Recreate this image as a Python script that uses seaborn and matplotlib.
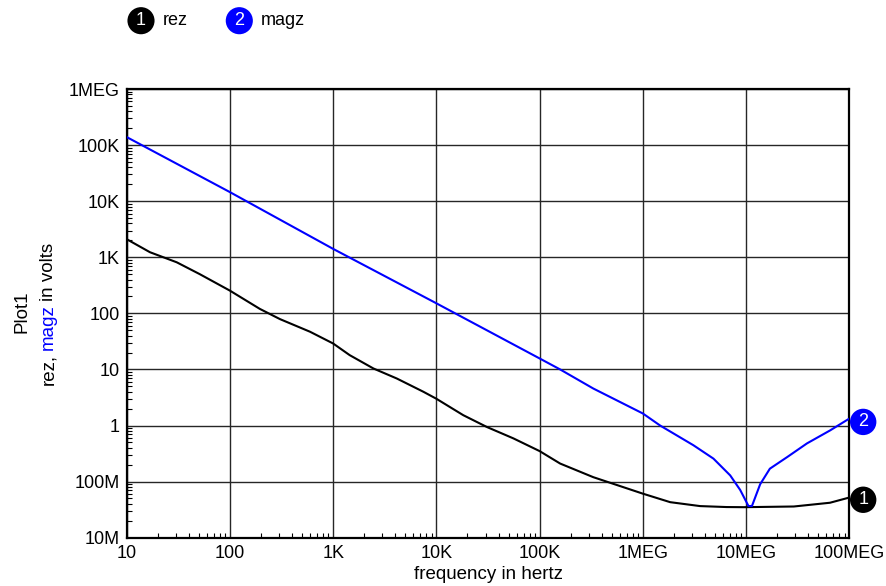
import pandas as pd
import matplotlib
matplotlib.use("Agg")
import matplotlib.pyplot as plt
from matplotlib.ticker import FixedLocator, FixedFormatter, LogLocator, NullFormatter
import seaborn as sns

# values
rez_freq = [10, 16.8, 30.5, 51, 100, 195, 305, 597, 1000, 1445, 2455, 4130, 7480, 10000,
            18200, 30900, 55700, 100000, 158000, 331000, 1e6, 1.84e6, 3.59e6, 6.46e6,
            9.5e6, 2.9e7, 6.5e7, 1e8]
rez_vals = [2100, 1230, 814, 500, 254, 120, 79, 47, 29, 18, 10.4, 6.9, 4.0, 3.0,
            1.53, 0.94, 0.59, 0.35, 0.21, 0.12, 0.061, 0.043, 0.0366, 0.0352,
            0.035, 0.036, 0.042, 0.052]

magz_freq = [10, 100, 1000, 10000, 100000, 158000, 331000, 1e6, 1.47e6, 3.09e6, 4.83e6,
             7.02e6, 8.77e6, 1.055e7, 1.14e7, 1.37e7, 1.7e7, 2.51e7, 3.89e7, 6.53e7, 1e8]
magz_vals = [139000, 14500, 1410, 151, 15.7, 10, 4.57, 1.64, 1.0, 0.445, 0.257,
             0.129, 0.071, 0.0367, 0.0367, 0.09, 0.17, 0.275, 0.48, 0.82, 1.33]

x_ticks = [1e1, 1e2, 1e3, 1e4, 1e5, 1e6, 1e7, 1e8]
x_labels = ['10', '100', '1K', '10K', '100K', '1MEG', '10MEG', '100MEG']
y_ticks = [1e-2, 1e-1, 1e0, 1e1, 1e2, 1e3, 1e4, 1e5, 1e6]
y_labels = ['10M', '100M', '1', '10', '100', '1K', '10K', '100K', '1MEG']

BLUE = '#0000ff'
W, H = 887, 586

sns.set_style('white')
plt.rcParams['font.family'] = ['Liberation Sans', 'DejaVu Sans']
plt.rcParams['text.color'] = 'black'
plt.rcParams['axes.labelcolor'] = 'black'

fig = plt.figure(figsize=(W / 100, H / 100), dpi=100)
ax = fig.add_axes([126.7 / W, 1 - 537.7 / H, (849.3 - 126.7) / W, (537.7 - 89) / H])

df_rez = pd.DataFrame({'freq': rez_freq, 'val': rez_vals})
df_magz = pd.DataFrame({'freq': magz_freq, 'val': magz_vals})
sns.lineplot(data=df_rez, x='freq', y='val', ax=ax, color='black', lw=1.5,
             estimator=None, sort=False, zorder=3)
sns.lineplot(data=df_magz, x='freq', y='val', ax=ax, color=BLUE, lw=1.5,
             estimator=None, sort=False, zorder=3)

ax.set_xscale('log')
ax.set_yscale('log')
ax.set_xlim(1e1, 1e8)
ax.set_ylim(1e-2, 1e6)

ax.xaxis.set_major_locator(FixedLocator(x_ticks))
ax.xaxis.set_major_formatter(FixedFormatter(x_labels))
ax.yaxis.set_major_locator(FixedLocator(y_ticks))
ax.yaxis.set_major_formatter(FixedFormatter(y_labels))
ax.xaxis.set_minor_locator(LogLocator(base=10, subs=range(2, 10), numticks=20))
ax.yaxis.set_minor_locator(LogLocator(base=10, subs=range(2, 10), numticks=20))
ax.xaxis.set_minor_formatter(NullFormatter())
ax.yaxis.set_minor_formatter(NullFormatter())

ax.tick_params(which='major', length=0, labelsize=13, pad=5, colors='black')
ax.tick_params(which='minor', direction='in', length=3.5, width=0.8, color='black',
               bottom=True, left=True, top=False, right=False)
ax.grid(True, which='major', color='#262626', lw=1.0)
for sp in ax.spines.values():
    sp.set_color('black')
    sp.set_linewidth(1.6)

ax.set_xlabel('frequency in hertz', fontsize=13.5, labelpad=3)
ax.set_ylabel('')

# end-of-curve markers
ax.annotate('2', xy=(magz_freq[-1], magz_vals[-1]), xytext=(10, -2.4),
            textcoords='offset points', ha='center', va='center', color='white',
            fontsize=13, annotation_clip=False, zorder=5,
            bbox=dict(boxstyle='circle,pad=0.26', fc=BLUE, ec='none'))
ax.annotate('1', xy=(rez_freq[-1], rez_vals[-1]), xytext=(10, -1.6),
            textcoords='offset points', ha='center', va='center', color='white',
            fontsize=13, annotation_clip=False, zorder=5,
            bbox=dict(boxstyle='circle,pad=0.26', fc='black', ec='none'))

# legend at top
fig.text(141 / W, 1 - 20.7 / H, '1', ha='center', va='center', color='white', fontsize=13,
         bbox=dict(boxstyle='circle,pad=0.28', fc='black', ec='none'))
fig.text(163 / W, 1 - 20.7 / H, 'rez', ha='left', va='center', fontsize=13)
fig.text(239.3 / W, 1 - 20.7 / H, '2', ha='center', va='center', color='white', fontsize=13,
         bbox=dict(boxstyle='circle,pad=0.28', fc=BLUE, ec='none'))
fig.text(261 / W, 1 - 20.7 / H, 'magz', ha='left', va='center', fontsize=13)

# y label, two lines, with magz in blue
label_fs = 13.5
fig.text(22 / W, 1 - 311.7 / H, 'Plot1', rotation=90, ha='center', va='center',
         fontsize=label_fs)

renderer = fig.canvas.get_renderer()


def text_width(s):
    t = fig.text(0, 0, s, fontsize=label_fs)
    w = t.get_window_extent(renderer).width
    t.remove()
    return w


full = 'rez, magz in volts'
total = text_width(full) - 3
start = (H - 314) - total / 2
pieces = [('rez,', 'black', 0.0),
          ('magz', BLUE, text_width('rez, magz') - text_width('magz') - 1.5),
          ('in volts', 'black', total - text_width('in volts'))]
for s, c, off in pieces:
    fig.text(48.5 / W, (start + off) / H, s, rotation=90, ha='center', va='bottom',
             color=c, fontsize=label_fs)

fig.savefig('out.png', dpi=100, facecolor='white')
